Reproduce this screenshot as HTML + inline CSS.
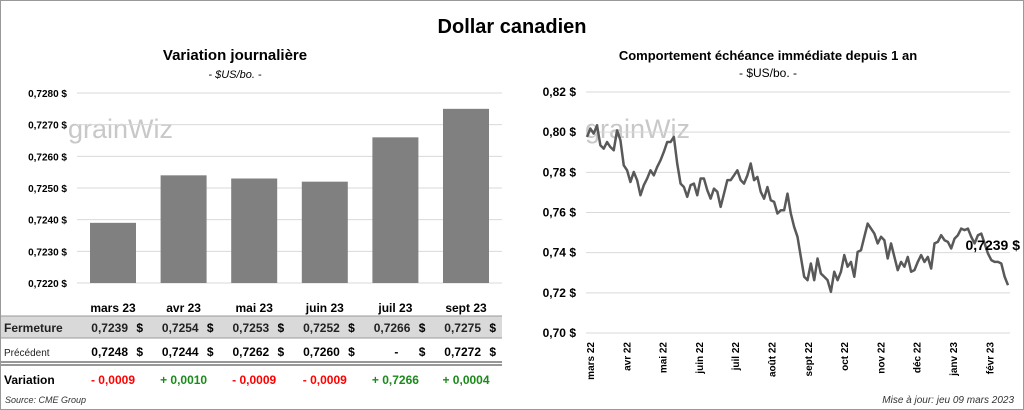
<!DOCTYPE html>
<html><head><meta charset="utf-8">
<style>
body{margin:0;width:1024px;height:410px;background:#fff;font-family:"Liberation Sans",sans-serif;overflow:hidden}
svg{display:block}
text{font-family:"Liberation Sans",sans-serif}
</style></head>
<body>
<svg id="s" width="1024" height="410">
<rect x="0.5" y="0.5" width="1023" height="409" fill="#fff" stroke="#999"/>
<text x="512" y="33" text-anchor="middle" font-size="20" font-weight="bold">Dollar canadien</text>
<text x="235" y="60" text-anchor="middle" font-size="15" font-weight="bold">Variation  journalière</text>
<text x="235" y="78" text-anchor="middle" font-size="11" font-style="italic">- $US/bo. -</text>
<text x="768" y="60" text-anchor="middle" font-size="13" font-weight="bold">Comportement échéance immédiate depuis 1 an</text>
<text x="768" y="77" text-anchor="middle" font-size="12">- $US/bo. -</text>
<g fill="#c8c8c8" font-size="27"><text x="68" y="138">grainWiz</text></g>
<g fill="#c8c8c8" font-size="27"><text x="585" y="138">grainWiz</text></g>
<g id="left"></g>
<g id="right"></g>
<g id="table"></g>
<text x="5" y="403" font-size="9" font-style="italic" fill="#333">Source: CME Group</text>
<text x="1014" y="403" text-anchor="end" font-size="10" font-style="italic" fill="#333">Mise à jour: jeu 09 mars 2023</text>
</svg>
<script>
const barCats=["mars 23","avr 23","mai 23","juin 23","juil 23","sept 23"];
const barVals=[0.7239,0.7254,0.7253,0.7252,0.7266,0.7275];
const barTicks=[0.7220,0.7230,0.7240,0.7250,0.7260,0.7270,0.7280];
const closeVals=["0,7239","0,7254","0,7253","0,7252","0,7266","0,7275"];
const prevVals=["0,7248","0,7244","0,7262","0,7260","-","0,7272"];
const varVals=["- 0,0009","+ 0,0010","- 0,0009","- 0,0009","+ 0,7266","+ 0,0004"];
const lineVals=[0.7976,0.8018,0.7993,0.8034,0.7935,0.7918,0.7951,0.7926,0.7910,0.8009,0.7960,0.7835,0.7810,0.7752,0.7802,0.7761,0.7686,0.7736,0.7769,0.7810,0.7785,0.7827,0.7860,0.7902,0.7951,0.7951,0.7976,0.7844,0.7744,0.7727,0.7678,0.7736,0.7744,0.7686,0.7769,0.7769,0.7711,0.7669,0.7719,0.7703,0.7628,0.7694,0.7761,0.7761,0.7785,0.7810,0.7761,0.7744,0.7785,0.7844,0.7761,0.7777,0.7703,0.7669,0.7727,0.7661,0.7653,0.7595,0.7611,0.7611,0.7694,0.7595,0.7528,0.7479,0.7379,0.7280,0.7263,0.7346,0.7263,0.7371,0.7296,0.7280,0.7263,0.7205,0.7305,0.7263,0.7305,0.7388,0.7330,0.7354,0.7280,0.7404,0.7412,0.7479,0.7545,0.7520,0.7495,0.7446,0.7479,0.7462,0.7371,0.7446,0.7379,0.7313,0.7354,0.7330,0.7379,0.7305,0.7313,0.7354,0.7388,0.7354,0.7379,0.7321,0.7446,0.7454,0.7487,0.7462,0.7454,0.7421,0.7470,0.7487,0.7520,0.7512,0.7520,0.7479,0.7446,0.7487,0.7495,0.7446,0.7396,0.7363,0.7354,0.7354,0.7346,0.7280,0.7238];
const lineTicks=[0.70,0.72,0.74,0.76,0.78,0.80,0.82];
const monthLabels=["mars 22","avr 22","mai 22","juin 22","juil 22","août 22","sept 22","oct 22","nov 22","déc 22","janv 23","févr 23"];
const lastLabel="0,7239 $";
const NS="http://www.w3.org/2000/svg";
function mk(p,t,a,txt){const e=document.createElementNS(NS,t);for(const k in a)e.setAttribute(k,a[k]);if(txt!==undefined)e.textContent=txt;p.appendChild(e);return e;}
const fmt=(v,d)=>v.toFixed(d).replace('.',',');
// left chart
const L=document.getElementById('left');
const ly=v=>283-(v-0.7220)/(0.7280-0.7220)*190;
const bx=i=>113+i*70.6;
barTicks.forEach(t=>{
 const g=mk(L,'line',{x1:77,x2:502,y1:ly(t),y2:ly(t),stroke:'#d9d9d9'});
 
 
 const tx=mk(L,'text',{x:67,y:ly(t)+4,'text-anchor':'end','font-size':10,'font-weight':'bold'},fmt(t,4)+' $');
 
 
});
barVals.forEach((v,i)=>{
 const r=mk(L,'rect',{x:bx(i)-23,y:ly(v),width:46,height:283-ly(v),fill:'#808080'});
 
 
});
// table
const T=document.getElementById('table');
mk(T,'rect',{x:1,y:316,width:501,height:22,fill:'#d9d9d9'});
mk(T,'line',{x1:1,x2:502,y1:316,y2:316,stroke:'#999'});
mk(T,'line',{x1:1,x2:502,y1:338,y2:338,stroke:'#999'});
mk(T,'line',{x1:1,x2:502,y1:362,y2:362,stroke:'#777','stroke-width':1.5});
mk(T,'line',{x1:1,x2:502,y1:365,y2:365,stroke:'#777','stroke-width':1.5});
mk(T,'text',{x:4,y:332,'font-size':12,'font-weight':'bold',fill:'#222'},'Fermeture');
mk(T,'text',{x:4,y:356,'font-size':10,fill:'#222'},'Précédent');
mk(T,'text',{x:4,y:384,'font-size':12,'font-weight':'bold'},'Variation');
barCats.forEach((c,i)=>{
 const h=mk(T,'text',{x:bx(i),y:312,'text-anchor':'middle','font-size':12,'font-weight':'bold'},c);
 
 
 const a=mk(T,'text',{x:bx(i)+15,y:332,'text-anchor':'end','font-size':12,'font-weight':'bold',fill:'#222'},closeVals[i]);
 
 
 mk(T,'text',{x:bx(i)+30,y:332,'text-anchor':'end','font-size':12,'font-weight':'bold'},'$');
 const b=mk(T,'text',{x:prevVals[i]=='-'?bx(i)+3:bx(i)+15,y:356,'text-anchor':'end','font-size':12,'font-weight':'bold'},prevVals[i]);
 
 
 mk(T,'text',{x:bx(i)+30,y:356,'text-anchor':'end','font-size':12,'font-weight':'bold'},'$');
 const d=mk(T,'text',{x:bx(i),y:384,'text-anchor':'middle','font-size':12,'font-weight':'bold',fill:varVals[i][0]=='-'?'#ff0000':'#1a8a1a'},varVals[i]);
 
 
});
// right chart
const R=document.getElementById('right');
const ry=v=>333-(v-0.70)/(0.12)*241;
const rx=i=>587+i*(1008-587)/(lineVals.length-1);
lineTicks.forEach(t=>{
 const g=mk(R,'line',{x1:586,x2:1010,y1:ry(t),y2:ry(t),stroke:'#d9d9d9'});
 
 
 const tx=mk(R,'text',{x:576,y:ry(t)+4,'text-anchor':'end','font-size':12,'font-weight':'bold'},fmt(t,2)+' $');
 
 
});
monthLabels.forEach((m,i)=>{
 const x=594+i*36.3;
 const tx=mk(R,'text',{x:0,y:0,'text-anchor':'end','font-size':10,'font-weight':'bold',transform:`translate(${x},342) rotate(-90)`},m);
 
 
});
const pl=mk(R,'polyline',{points:lineVals.map((v,i)=>rx(i)+','+ry(v)).join(' '),fill:'none',stroke:'#595959','stroke-width':2.5,'stroke-linejoin':'round'});


const ll=mk(R,'text',{x:1020,y:250,'text-anchor':'end','font-size':14,'font-weight':'bold'},lastLabel);


</script>
</body></html>
